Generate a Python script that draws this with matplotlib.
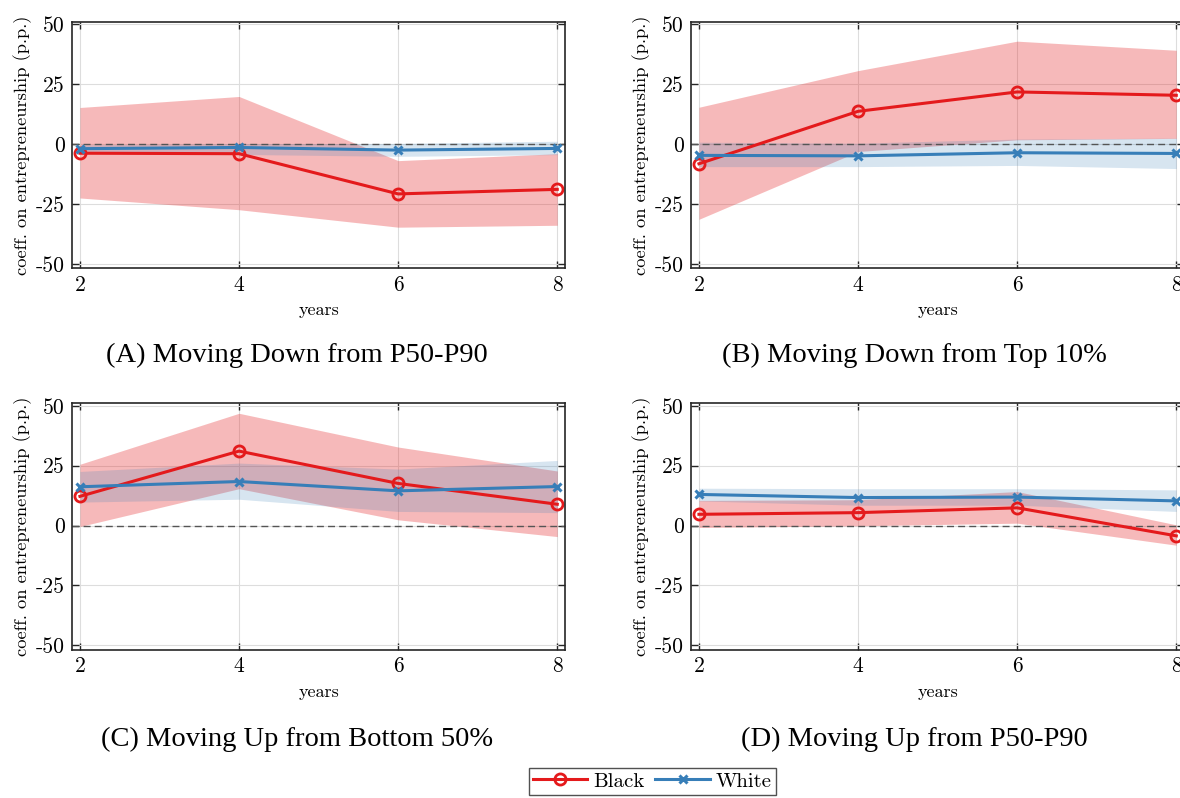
import matplotlib
matplotlib.use("Agg")
import matplotlib.pyplot as plt

plt.rcParams['font.family'] = ['cmr10', 'DejaVu Serif']
plt.rcParams['axes.unicode_minus'] = False

years = [2, 4, 6, 8]
xtick_labels = ['2', '4', '6', '8']
yticks = [-50, -25, 0, 25, 50]
ytick_labels = ['-50', '-25', '0', '25', '50']

titles = ['(A) Moving Down from P50-P90', '(B) Moving Down from Top 10%',
          '(C) Moving Up from Bottom 50%', '(D) Moving Up from P50-P90']

# Black: estimate, lower, upper
black_a = [-3.8, -4.0, -20.8, -18.9]
black_a_lo = [-22.5, -27.4, -34.7, -33.9]
black_a_hi = [15.3, 19.9, -6.9, -4.0]
white_a = [-1.9, -1.4, -2.5, -1.8]
white_a_lo = [-3.5, -4.3, -5.1, -4.4]
white_a_hi = [-0.3, 0.2, 0.3, 1.2]

black_b = [-8.2, 13.7, 21.8, 20.4]
black_b_lo = [-31.4, -3.1, 1.8, 2.4]
black_b_hi = [15.4, 30.7, 43.0, 39.2]
white_b = [-4.7, -4.9, -3.6, -3.9]
white_b_lo = [-9.4, -9.4, -8.9, -10.2]
white_b_hi = [0.8, 0.4, 2.1, 2.5]

black_c = [12.2, 31.1, 17.6, 8.9]
black_c_lo = [-0.4, 15.4, 2.4, -4.6]
black_c_hi = [25.6, 46.9, 32.8, 22.8]
white_c = [16.2, 18.4, 14.5, 16.3]
white_c_lo = [9.8, 11.0, 5.9, 5.4]
white_c_hi = [22.6, 26.1, 23.6, 27.2]

black_d = [4.7, 5.4, 7.4, -4.3]
black_d_lo = [-0.8, -0.1, 1.0, -8.2]
black_d_hi = [10.5, 10.8, 14.2, 0.3]
white_d = [13.0, 11.7, 11.9, 10.3]
white_d_lo = [10.3, 8.5, 8.5, 5.9]
white_d_hi = [15.6, 15.4, 15.4, 14.9]

panels = [
    (black_a, black_a_lo, black_a_hi, white_a, white_a_lo, white_a_hi),
    (black_b, black_b_lo, black_b_hi, white_b, white_b_lo, white_b_hi),
    (black_c, black_c_lo, black_c_hi, white_c, white_c_lo, white_c_hi),
    (black_d, black_d_lo, black_d_hi, white_d, white_d_lo, white_d_hi),
]

RED = '#e41a1c'
BLUE = '#377eb8'

fig = plt.figure(figsize=(11.8, 7.98), dpi=100)

# axes boxes in figure fractions
w, h = 0.418, 0.309
boxes = [(0.061, 0.664), (0.5856, 0.664), (0.061, 0.186), (0.5856, 0.186)]
title_pos = [(0.252, 0.555), (0.775, 0.555), (0.252, 0.073), (0.775, 0.073)]

handles = None
for i, (bx, by) in enumerate(boxes):
    ax = fig.add_axes([bx, by, w, h])
    b, blo, bhi, wh, wlo, whi = panels[i]
    ax.fill_between(years, blo, bhi, color=RED, alpha=0.3, linewidth=0)
    ax.fill_between(years, wlo, whi, color=BLUE, alpha=0.2, linewidth=0)
    ax.axhline(0, color='#555555', linestyle='--', linewidth=1.0, dashes=(5, 3))
    lb, = ax.plot(years, b, color=RED, linewidth=2.2, marker='o', markersize=8,
                  markerfacecolor='none', markeredgewidth=2, label='Black')
    lw, = ax.plot(years, wh, color=BLUE, linewidth=2.2, marker='x', markersize=5.5,
                  markeredgewidth=2.2, label='White')
    handles = [lb, lw]
    ax.set_xlim(1.9, 8.1)
    ax.set_ylim(-51.8, 51.2)
    ax.set_xticks(years, xtick_labels)
    ax.set_yticks(yticks, ytick_labels)
    ax.tick_params(direction='in', top=True, right=True, length=5, width=1,
                   labelsize=15.5, color='#262626', pad=5)
    ax.grid(True, color='#dddddd', linewidth=0.8)
    ax.set_axisbelow(True)
    for s in ax.spines.values():
        s.set_color('#262626')
        s.set_linewidth(1.2)
    ax.set_xlabel('years', fontsize=13, labelpad=6)
    ax.set_ylabel('coeff. on entrepreneurship (p.p.)', fontsize=13.3, labelpad=3)
    tx, ty = title_pos[i]
    fig.text(tx, ty, titles[i], ha='center', va='center', fontsize=20.5,
             family='Liberation Serif')

leg = fig.legend(handles=handles, loc='center', bbox_to_anchor=(0.553, 0.021),
                 ncol=2, fontsize=15, frameon=True, fancybox=False,
                 handlelength=2.6, handletextpad=0.3, columnspacing=0.5,
                 borderpad=0.2, borderaxespad=0)
leg.get_frame().set_edgecolor('#262626')
leg.get_frame().set_linewidth(1.0)

fig.savefig('out.png', dpi=100)
